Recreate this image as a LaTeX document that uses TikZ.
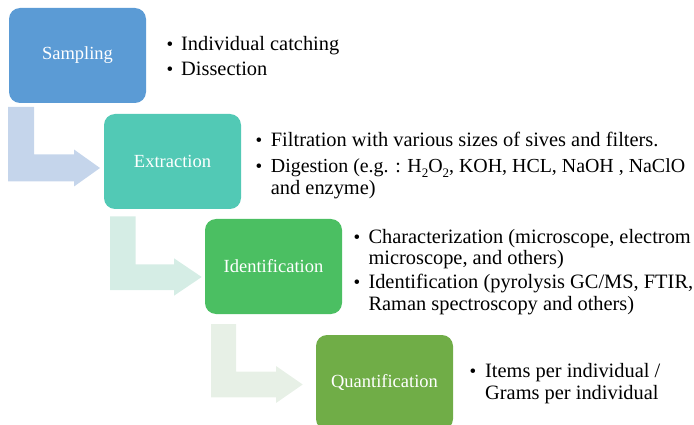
\documentclass[tikz,border=0pt]{standalone}
\usepackage{fontspec}
\setmainfont{Liberation Serif}
\definecolor{cA}{HTML}{5B9BD5}
\definecolor{cB}{HTML}{52C9B5}
\definecolor{cC}{HTML}{4BBF62}
\definecolor{cD}{HTML}{70AD47}
\definecolor{aA}{HTML}{C5D5EB}
\definecolor{aB}{HTML}{D5EDE5}
\definecolor{aC}{HTML}{E7F0E6}
\newcommand{\subtwo}{\raisebox{-0.22em}{\fontsize{13}{13}\selectfont 2}}
\tikzset{
  stepbox/.style={rounded corners=11pt, minimum width=137pt, minimum height=95pt, inner sep=0pt,
    text=white, font=\fontsize{18.5}{20}\selectfont},
  bul/.style={anchor=base west, inner sep=0pt, font=\fontsize{19}{22}\selectfont},
  ln/.style={anchor=base west, inner sep=0pt, font=\fontsize{20.4}{22}\selectfont},
}
\begin{document}
\begin{tikzpicture}[x=1pt,y=-1pt]
\useasboundingbox (0,0) rectangle (694,425);
\clip (0,0) rectangle (694,425);
% bent arrows
\fill[aA] (8,107) -- (34,107) -- (34,154.5) -- (74,154.5) -- (74,149.5) -- (100,168) -- (74,186.5) -- (74,181.5) -- (8,181.5) -- cycle;
\fill[aB] (110,216.5) -- (135.7,216.5) -- (135.7,264.3) -- (174,264.3) -- (174,258.3) -- (201.7,277) -- (174,295.7) -- (174,290) -- (110,290) -- cycle;
\fill[aC] (211,324) -- (236,324) -- (236,371.7) -- (276,371.7) -- (276,366) -- (302.7,384.5) -- (276,403) -- (276,397.3) -- (211,397.3) -- cycle;
% boxes
\node[stepbox, fill=cA] (s1) at (77.5,55.5) {Sampling};
\node[stepbox, fill=cB] (s2) at (172.5,161.5) {Extraction};
\node[stepbox, fill=cC] (s3) at (273.5,266.5) {Identification};
\node[stepbox, fill=cD] (s4) at (384.5,382.5) {Quantification};
% bullets: Sampling
\node[bul] (b1a) at (166.5,50.7) {•};
\node[ln] (t1a) at (181,50.7) {Individual catching};
\node[bul] (b1b) at (166.5,76) {•};
\node[ln] (t1b) at (181,76) {Dissection};
% Extraction
\node[bul] (b2a) at (255.5,146.7) {•};
\node[ln] (t2a) at (270.7,146.7) {Filtration with various sizes of sives and filters.};
\node[bul] (b2b) at (255.5,172.7) {•};
\node[ln, font=\fontsize{19.9}{22}\selectfont] (t2b) at (270.7,172.7) {Digestion (e.g. : H\subtwo O\subtwo, KOH, HCL, NaOH , NaClO};
\node[ln] (t2c) at (270.7,194.5) {and enzyme)};
% Identification
\node[bul] (b3a) at (353.5,243.3) {•};
\node[ln] (t3a) at (368.3,243.3) {Characterization (microscope, electrom};
\node[ln] (t3b) at (368.3,265) {microscope, and others)};
\node[bul] (b3b) at (353.5,288.3) {•};
\node[ln] (t3c) at (368.3,288.3) {Identification (pyrolysis GC/MS, FTIR,};
\node[ln] (t3d) at (368.3,310) {Raman spectroscopy and others)};
% Quantification
\node[bul] (b4a) at (469.5,377.3) {•};
\node[ln] (t4a) at (485,377.3) {Items per individual /};
\node[ln] (t4b) at (485,399) {Grams per individual};
\end{tikzpicture}
\end{document}
